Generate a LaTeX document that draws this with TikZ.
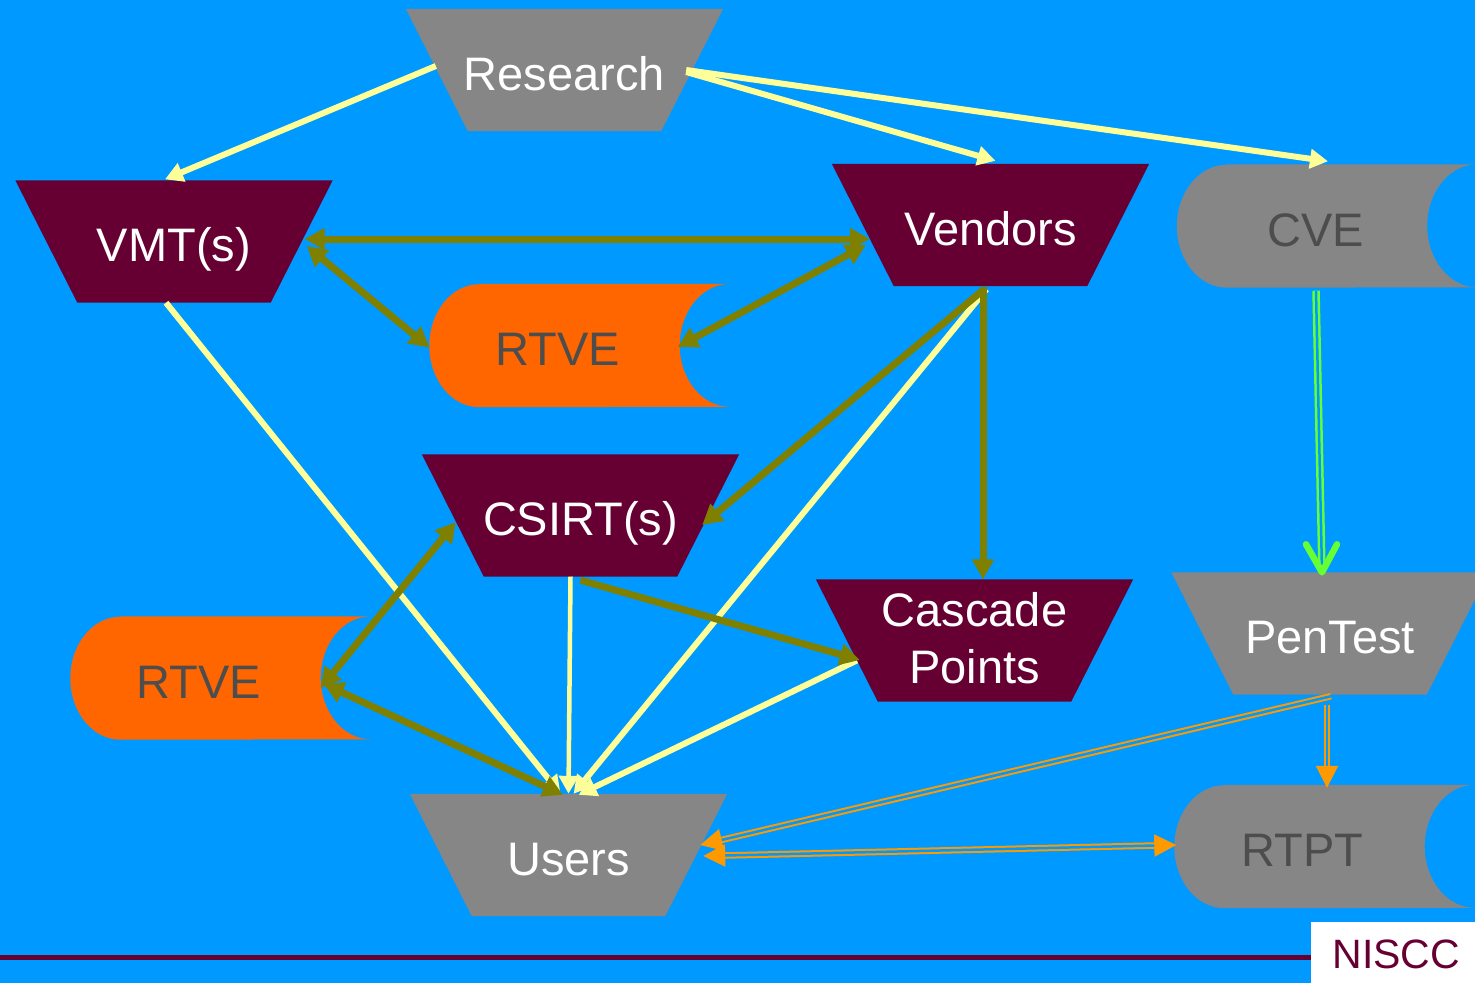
\documentclass[tikz,border=0pt]{standalone}
\usepackage{fontspec}
\setmainfont{Liberation Sans}
\usetikzlibrary{arrows.meta,calc}
\definecolor{bgblue}{HTML}{0099FF}
\definecolor{maroon}{HTML}{660033}
\definecolor{shapegray}{HTML}{868686}
\definecolor{rtveorange}{HTML}{FF6600}
\definecolor{txtgray}{HTML}{4D4D4D}
\definecolor{olivec}{HTML}{808000}
\definecolor{ylwc}{HTML}{FFFF99}
\definecolor{greenc}{HTML}{66FF33}
\definecolor{orangec}{HTML}{FF9900}
\pgfdeclarelayer{bg}
\pgfsetlayers{bg,main}
\newcommand\trapfill[2]{\fill[#2] (#1.north west) -- (#1.north east) -- ([xshift=-62pt]#1.south east) -- ([xshift=62pt]#1.south west) -- cycle;}
\newcommand\datafill[2]{\fill[#2] ([xshift=50pt]#1.north west) -- (#1.north east) arc[start angle=90,end angle=270,x radius=50pt,y radius=61.5pt] -- ([xshift=50pt]#1.south west) arc[start angle=270,end angle=90,x radius=50pt,y radius=61.5pt] -- cycle;}
\tikzset{
  trapnode/.style={minimum width=317pt, minimum height=122pt, inner sep=0pt, text=white, font=\fontsize{47}{57}\selectfont, align=center, text height=40pt, text depth=0pt},
  datanode/.style={minimum width=300pt, minimum height=123pt, inner sep=0pt, text=txtgray, font=\fontsize{47}{57}\selectfont, text height=40pt, text depth=0pt, execute at begin node=\hspace*{-44pt}},
  ylw/.style={draw=ylwc, line width=6pt, -{Triangle[length=18pt,width=19pt]}},
  olv/.style={draw=olivec, line width=7pt, -{Triangle[length=20pt,width=21pt]}},
  olvboth/.style={draw=olivec, line width=7pt, {Triangle[length=20pt,width=21pt]}-{Triangle[length=20pt,width=21pt]}},
  grn/.style={draw=greenc, line width=2.5pt, double=bgblue, double distance=2.5pt},
  grntip/.style={draw=greenc, line width=6.5pt, line cap=round, line join=round},
  org/.style={draw=orangec, line width=2pt, double=bgblue, double distance=2.5pt, -{Triangle[length=22pt,width=22pt]}},
  orgboth/.style={draw=orangec, line width=2pt, double=bgblue, double distance=2.5pt, {Triangle[length=22pt,width=22pt]}-{Triangle[length=22pt,width=22pt]}},
}
\begin{document}
\begin{tikzpicture}[x=1pt,y=-1pt]
\useasboundingbox (0,0) rectangle (1475,983);
\begin{pgfonlayer}{bg}
\fill[bgblue] (0,0) rectangle (1475,983);
\end{pgfonlayer}

% trapezoid nodes
\node[trapnode] (research) at (564.5,70) {Research};
\node[trapnode] (vmt) at (174,241.5) {VMT(s)};
\node[trapnode] (vendors) at (990.5,225) {Vendors};
\node[trapnode] (csirt) at (580.5,515.5) {CSIRT(s)};
\node[trapnode, text height=91pt, text depth=6pt] (cascade) at (974.5,640.5) {Cascade\\Points};
\node[trapnode] (pentest) at (1330,633.5) {PenTest};
\node[trapnode] (users) at (568.5,855) {Users};

% data nodes
\node[datanode] (rtvea) at (579.5,345.5) {RTVE};
\node[datanode] (rtveb) at (220.5,678) {RTVE};
\node[datanode, execute at begin node=\hspace*{22pt}] (cve) at (1327,226) {CVE};
\node[datanode] (rtpt) at (1324.5,846.5) {RTPT};

\begin{pgfonlayer}{bg}
\trapfill{research}{shapegray}
\trapfill{vmt}{maroon}
\trapfill{vendors}{maroon}
\trapfill{csirt}{maroon}
\trapfill{cascade}{maroon}
\trapfill{pentest}{shapegray}
\trapfill{users}{shapegray}
\datafill{rtvea}{rtveorange}
\datafill{rtveb}{rtveorange}
\datafill{cve}{shapegray}
\datafill{rtpt}{shapegray}
\end{pgfonlayer}

% yellow connectors
\draw[ylw] ($(research.west)+(30,-4)$) -- ($(vmt.north)+(-9,-1)$);
\draw[ylw] ($(research.east)+(-37,2)$) -- ($(vendors.north)+(5,-3)$);
\draw[ylw] ($(research.east)+(-37,0)$) -- ($(cve.north)+(1,-3)$);
\draw[ylw] ($(vmt.south)+(-8,0)$) -- ($(users.north)+(-8,0)$);
\draw[ylw, line width=4.5pt] ($(csirt.south)+(-10,0)$) -- ($(users.north)+(0,0)$);
\draw[ylw] ($(vendors.south)+(-4,3)$) -- ($(users.north)+(5,0)$);
\draw[ylw] ($(cascade.west)+(41,20)$) -- ($(users.north)+(10,1)$);

% olive connectors
\draw[olvboth] ($(vmt.east)+(-28,-2.5)$) -- ($(vendors.west)+(38,14)$);
\draw[olvboth] ($(vmt.east)+(-26,4.5)$) -- ($(rtvea.west)+(0,2)$);
\draw[olvboth] ($(vendors.west)+(34,20)$) -- ($(rtvea.east)+(-52,1.5)$);
\draw[olv] ($(vendors.south)+(-7.5,4)$) -- ($(csirt.east)+(-37,9.5)$);
\draw[olv] ($(vendors.south)+(-7.5,1)$) -- ($(cascade.north)+(8.5,0)$);
\draw[olv] ($(csirt.south)+(0,3.5)$) -- ($(cascade.west)+(44,19.5)$);
\draw[olvboth] ($(csirt.west)+(34,6.5)$) -- ($(rtveb.east)+(-50,10)$);
\draw[olvboth] ($(rtveb.east)+(-47,6)$) -- ($(users.north)+(-5.5,1)$);

% green connector (double line with an open V head)
\coordinate (gstart) at ($(cve.south)+(-11,3)$);
\coordinate (gend) at ($(pentest.north)+(-8,0)$);
\draw[grn] (gstart) -- (gend);
\draw[grntip] ($(gend)+(-16,-28)$) -- (gend) -- ($(gend)+(15,-28)$);

% orange connectors
\draw[org] ($(pentest.south)+(1,1.5)$) -- ($(users.east)+(-27,-10)$);
\draw[org] ($(pentest.south)+(-3,10)$) -- ($(rtpt.north)+(2.5,3)$);
\draw[orgboth] ($(users.east)+(-24,1)$) -- ($(rtpt.west)+(2,-1.5)$);

% footer
\node[fill=white, minimum width=164pt, minimum height=61pt, inner sep=0pt, text=maroon, font=\fontsize{41}{48}\selectfont, text height=31pt, text depth=0pt, anchor=north west] (niscc) at (1311,922) {\hspace*{6pt}NISCC};
\coordinate (lineleft) at (0,957);
\draw[maroon, line width=5pt] (lineleft) -- (niscc.west |- lineleft);
\end{tikzpicture}
\end{document}
